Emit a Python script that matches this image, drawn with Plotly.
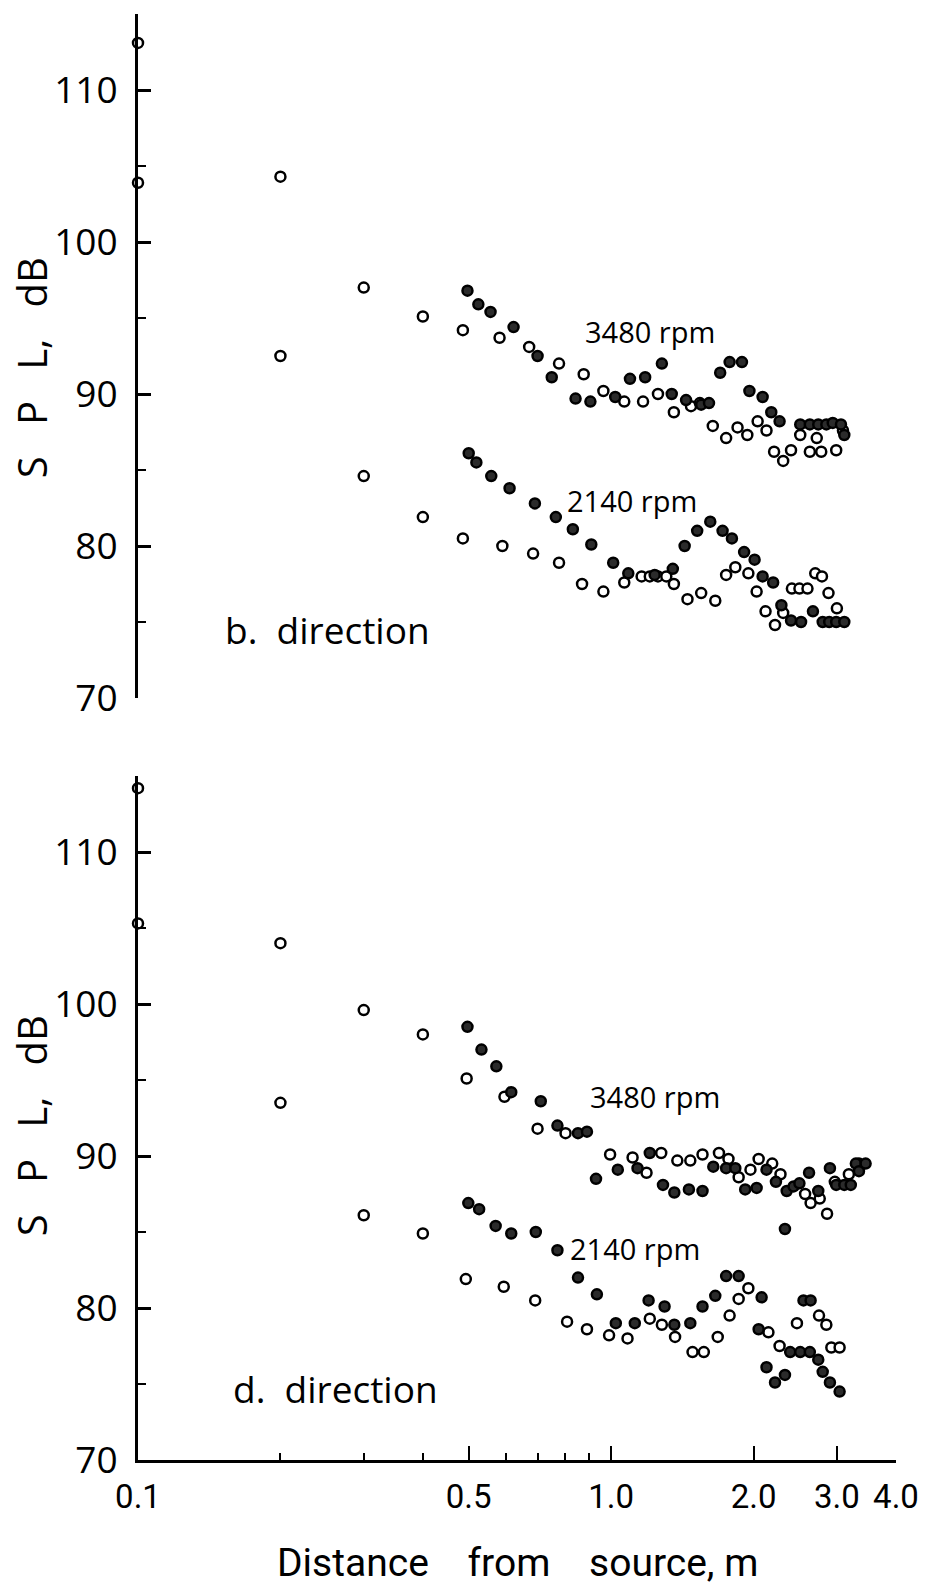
import math
import plotly.graph_objects as go

# ---------------- data ----------------
# b. direction
b3480_filled_x = [0.497, 0.524, 0.556, 0.622, 0.699, 0.749, 0.841, 0.904, 1.02, 1.096, 1.18, 1.28, 1.343, 1.44,
                  1.55, 1.61, 1.70, 1.78, 1.89, 1.96, 2.09, 2.18, 2.27, 2.51, 2.63, 2.74, 2.85, 2.94, 3.06, 3.11]
b3480_filled_y = [96.8, 95.9, 95.4, 94.4, 92.5, 91.1, 89.7, 89.5, 89.8, 91.0, 91.1, 92.0, 90.0, 89.6,
                  89.3, 89.4, 91.4, 92.1, 92.1, 90.2, 89.8, 88.8, 88.2, 88.0, 88.0, 88.0, 88.0, 88.1, 88.0, 87.3]
b3480_open_x = [0.1, 0.2, 0.3, 0.4, 0.486, 0.581, 0.671, 0.776, 0.875, 0.963, 1.066, 1.168, 1.256, 1.357, 1.475,
                1.54, 1.64, 1.75, 1.85, 1.94, 2.04, 2.13, 2.21, 2.31, 2.40, 2.51, 2.63, 2.72, 2.78, 2.99, 3.09]
b3480_open_y = [113.1, 104.3, 97.0, 95.1, 94.2, 93.7, 93.1, 92.0, 91.3, 90.2, 89.5, 89.5, 90.0, 88.8, 89.2,
                89.4, 87.9, 87.1, 87.8, 87.3, 88.2, 87.6, 86.2, 85.6, 86.3, 87.3, 86.2, 87.1, 86.2, 86.3, 87.6]
b2140_filled_x = [0.50, 0.519, 0.558, 0.61, 0.69, 0.764, 0.83, 0.908, 1.01, 1.087, 1.236, 1.35, 1.43, 1.52, 1.62,
                  1.72, 1.80, 1.91, 2.01, 2.09, 2.20, 2.29, 2.40, 2.52, 2.67, 2.80, 2.89, 2.99, 3.11]
b2140_filled_y = [86.1, 85.5, 84.6, 83.8, 82.8, 81.9, 81.1, 80.1, 78.9, 78.2, 78.1, 78.5, 80.0, 81.0, 81.6,
                  81.0, 80.5, 79.6, 79.1, 78.0, 77.6, 76.1, 75.1, 75.0, 75.7, 75.0, 75.0, 75.0, 75.0]
b2140_open_x = [0.1, 0.2, 0.3, 0.4, 0.486, 0.589, 0.684, 0.776, 0.868, 0.963, 1.066, 1.16, 1.207, 1.256, 1.308,
                1.357, 1.45, 1.55, 1.66, 1.75, 1.83, 1.95, 2.03, 2.12, 2.22, 2.31, 2.41, 2.50, 2.60, 2.70,
                2.79, 2.88, 3.00]
b2140_open_y = [103.9, 92.5, 84.6, 81.9, 80.5, 80.0, 79.5, 78.9, 77.5, 77.0, 77.6, 78.0, 78.0, 78.0, 78.0,
                77.5, 76.5, 76.9, 76.4, 78.1, 78.6, 78.2, 77.0, 75.7, 74.8, 75.6, 77.2, 77.2, 77.2, 78.2,
                78.0, 76.9, 75.9]

# d. direction
d3480_filled_x = [0.497, 0.532, 0.572, 0.615, 0.71, 0.77, 0.851, 0.889, 0.929, 1.033, 1.137, 1.207, 1.287, 1.36,
                  1.46, 1.56, 1.644, 1.75, 1.83, 1.92, 2.03, 2.13, 2.23, 2.33, 2.35, 2.43, 2.50, 2.62, 2.74,
                  2.90, 2.99, 3.11, 3.21, 3.29, 3.34, 3.45]
d3480_filled_y = [98.5, 97.0, 95.9, 94.2, 93.6, 92.0, 91.5, 91.6, 88.5, 89.1, 89.2, 90.2, 88.1, 87.6,
                  87.8, 87.7, 89.3, 89.2, 89.2, 87.8, 87.9, 89.1, 88.3, 85.2, 87.7, 88.0, 88.2, 88.9, 87.7,
                  89.2, 88.1, 88.1, 88.1, 89.5, 89.0, 89.5]
d3480_open_x = [0.1, 0.2, 0.3, 0.4, 0.495, 0.595, 0.699, 0.801, 0.995, 1.11, 1.188, 1.276, 1.38, 1.47, 1.56,
                1.69, 1.77, 1.86, 1.97, 2.05, 2.19, 2.28, 2.57, 2.64, 2.76, 2.86, 2.97, 3.18, 3.34]
d3480_open_y = [114.2, 104.0, 99.6, 98.0, 95.1, 93.9, 91.8, 91.5, 90.1, 89.9, 88.9, 90.2, 89.7, 89.7, 90.1,
                90.2, 89.8, 88.6, 89.1, 89.8, 89.5, 88.8, 87.5, 86.9, 87.2, 86.2, 88.3, 88.8, 89.5]
d2140_filled_x = [0.499, 0.526, 0.570, 0.615, 0.693, 0.77, 0.851, 0.933, 1.023, 1.122, 1.20, 1.297, 1.36, 1.47,
                  1.56, 1.66, 1.75, 1.86, 2.05, 2.08, 2.13, 2.22, 2.33, 2.39, 2.51, 2.55, 2.63, 2.64, 2.74,
                  2.80, 2.90, 3.04]
d2140_filled_y = [86.9, 86.5, 85.4, 84.9, 85.0, 83.8, 82.0, 80.9, 79.0, 79.0, 80.5, 80.1, 78.9, 79.0,
                  80.1, 80.8, 82.1, 82.1, 78.6, 80.7, 76.1, 75.1, 75.6, 77.1, 77.1, 80.5, 77.1, 80.5, 76.6,
                  75.8, 75.1, 74.5]
d2140_open_x = [0.1, 0.2, 0.3, 0.4, 0.493, 0.593, 0.691, 0.807, 0.889, 0.99, 1.083, 1.207, 1.28, 1.365, 1.486,
                1.57, 1.68, 1.78, 1.86, 1.95, 2.15, 2.27, 2.47, 2.75, 2.85, 2.92, 3.04]
d2140_open_y = [105.3, 93.5, 86.1, 84.9, 81.9, 81.4, 80.5, 79.1, 78.6, 78.2, 78.0, 79.3, 78.9, 78.1, 77.1,
                77.1, 78.1, 79.5, 80.6, 81.3, 78.4, 77.5, 79.0, 79.5, 78.9, 77.4, 77.4]

x_tickvals = [0.1, 0.5, 1.0, 2.0, 3.0, 4.0]
x_ticktext = ["0.1", "0.5", "1.0", "2.0", "3.0", "4.0"]
x_minor = [0.2, 0.3, 0.4, 0.6, 0.7, 0.8, 0.9]
y_tickvals = [70, 80, 90, 100, 110]
y_minor = [75, 85, 95, 105, 115]

# ---------------- figure ----------------
W, H = 931, 1587
L, R, T, B = 138, 27, 14, 127
FONT_NUM = "Open Sans, DejaVu Sans, sans-serif"
FONT_NARROW = "Roboto, Liberation Sans Narrow, DejaVu Sans Condensed, sans-serif"

fig = go.Figure()


def add(xs, ys, filled, xa, ya):
    fig.add_trace(go.Scatter(
        x=xs, y=ys, mode="markers", xaxis=xa, yaxis=ya, cliponaxis=False,
        showlegend=False, hoverinfo="skip",
        marker=dict(symbol="circle", size=10,
                    color="#2b2b2b" if filled else "white",
                    line=dict(color="black", width=2.5))))


add(b3480_open_x, b3480_open_y, False, "x", "y")
add(b2140_open_x, b2140_open_y, False, "x", "y")
add(b3480_filled_x, b3480_filled_y, True, "x", "y")
add(b2140_filled_x, b2140_filled_y, True, "x", "y")
add(d3480_open_x, d3480_open_y, False, "x2", "y2")
add(d2140_open_x, d2140_open_y, False, "x2", "y2")
add(d3480_filled_x, d3480_filled_y, True, "x2", "y2")
add(d2140_filled_x, d2140_filled_y, True, "x2", "y2")

xrange = [-1, math.log10(4.0)]
yrange = [70, 115]

yaxis_common = dict(
    range=yrange, showgrid=False, zeroline=False, showline=True, linecolor="black", linewidth=3,
    ticks="inside", tickvals=y_tickvals, ticktext=[str(v) for v in y_tickvals], ticklen=13, tickwidth=2.5,
    tickcolor="black", ticklabelstandoff=10,
    tickfont=dict(family=FONT_NUM, size=37, color="black"),
    minor=dict(tickvals=y_minor, ticks="inside", ticklen=8, tickwidth=2, tickcolor="black"),
)

top_dom = [(1460 - 698) / (H - T - B), 1.0]
bot_dom = [0.0, (1460 - 776) / (H - T - B)]

fig.update_layout(
    width=W, height=H, margin=dict(l=L, r=R, t=T, b=B),
    paper_bgcolor="white", plot_bgcolor="white",
    xaxis=dict(type="log", range=xrange, domain=[0, 1], anchor="y", visible=False),
    yaxis=dict(domain=top_dom, anchor="x", **yaxis_common),
    xaxis2=dict(type="log", range=xrange, domain=[0, 1], anchor="y2", showgrid=False, zeroline=False,
                showline=True, linecolor="black", linewidth=2.5,
                ticks="inside", tickvals=x_tickvals, ticktext=x_ticktext, ticklen=14, tickwidth=2,
                tickcolor="black", ticklabelstandoff=6,
                tickfont=dict(family=FONT_NARROW, size=33, color="black"),
                minor=dict(tickvals=x_minor, ticks="inside", ticklen=7, tickwidth=2, tickcolor="black")),
    yaxis2=dict(domain=bot_dom, anchor="x2", **yaxis_common),
)

NB = "\u00a0"
ann = []
# axis titles
for yc in [(1460 - 368) / (H - T - B), (1460 - 1126) / (H - T - B)]:
    ann.append(dict(xref="paper", yref="paper", x=(30 - L) / (W - L - R), y=yc,
                    text="S" + NB * 3 + "P" + NB * 3 + "L," + NB * 3 + "dB",
                    textangle=-90, showarrow=False, xanchor="center", yanchor="middle",
                    font=dict(family=FONT_NUM, size=40, color="black")))
ann.append(dict(xref="paper", yref="paper", x=(521 - L) / (W - L - R), y=(1460 - 1563) / (H - T - B),
                text="Distance" + NB * 4 + "from" + NB * 4 + "source," + NB + "m", showarrow=False,
                xanchor="center", yanchor="middle", font=dict(family=FONT_NARROW, size=39, color="black")))

# panel labels (data coordinates; x in log10 units)
labels = [
    ("x", "y", 1.21, 94.1, "3480" + NB + "rpm", 29),
    ("x", "y", 1.106, 83.0, "2140" + NB + "rpm", 29),
    ("x", "y", 0.252, 74.5, "b." + NB * 2 + "direction", 37),
    ("x2", "y2", 1.236, 93.9, "3480" + NB + "rpm", 29),
    ("x2", "y2", 1.122, 83.9, "2140" + NB + "rpm", 29),
    ("x2", "y2", 0.261, 74.7, "d." + NB * 2 + "direction", 37),
]
for xr, yr, xv, yv, txt, fs in labels:
    ann.append(dict(xref=xr, yref=yr, x=math.log10(xv), y=yv, text=txt, showarrow=False,
                    xanchor="center", yanchor="middle",
                    font=dict(family=FONT_NUM, size=fs, color="black")))
fig.update_layout(annotations=ann)

fig.write_html("out.html")
